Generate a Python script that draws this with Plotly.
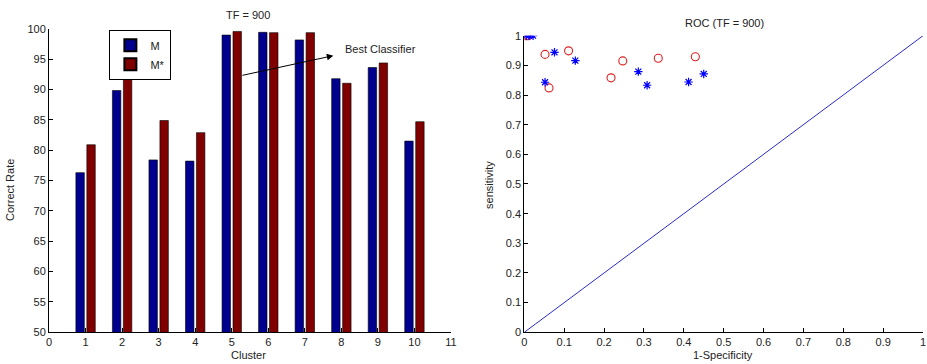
import plotly.graph_objects as go

clusters = [1, 2, 3, 4, 5, 6, 7, 8, 9, 10]
rate_M = [76.3, 89.85, 78.4, 78.2, 99.0, 99.45, 98.2, 91.8, 93.65, 81.5]
rate_Mstar = [80.9, 92.06, 84.9, 82.9, 99.6, 99.4, 99.4, 91.05, 94.4, 84.7]

roc_circle_x = [0.005, 0.010, 0.052, 0.062, 0.111, 0.2175, 0.247, 0.336, 0.429]
roc_circle_y = [1.0, 1.0, 0.937, 0.824, 0.949, 0.858, 0.915, 0.924, 0.929]
roc_star_x = [0.005, 0.012, 0.022, 0.0757, 0.128, 0.052, 0.286, 0.308, 0.412, 0.450]
roc_star_y = [1.0, 1.0, 1.0, 0.944, 0.916, 0.843, 0.879, 0.833, 0.844, 0.871]
diag = [0, 1]
roc_ticks = [i / 10 for i in range(11)]
roc_ticktext = ["0", "0.1", "0.2", "0.3", "0.4", "0.5", "0.6", "0.7", "0.8", "0.9", "1"]

FONT = "Liberation Sans, Arial, sans-serif"
TXT = dict(family=FONT, size=11, color="#222222")

fig = go.Figure()
fig.add_trace(go.Bar(x=clusters, y=rate_M, name="M", marker=dict(color="#00008f", line=dict(color="#000000", width=0.6)),
                     xaxis="x", yaxis="y"))
fig.add_trace(go.Bar(x=clusters, y=rate_Mstar, name="M*", marker=dict(color="#800000", line=dict(color="#000000", width=0.6)),
                     xaxis="x", yaxis="y"))

fig.add_trace(go.Scatter(x=diag, y=diag, mode="lines", line=dict(color="#2a2ad0", width=1), showlegend=False,
                         xaxis="x2", yaxis="y2"))
fig.add_trace(go.Scatter(x=roc_circle_x, y=roc_circle_y, mode="markers",
                         marker=dict(symbol="circle-open", size=8, color="#e02020", line=dict(width=1.1)),
                         showlegend=False, xaxis="x2", yaxis="y2"))
fig.add_trace(go.Scatter(x=roc_star_x, y=roc_star_y, mode="markers",
                         marker=dict(symbol="asterisk-open", size=7, color="#0000ff", line=dict(width=1.2, color="#0000ff")),
                         showlegend=False, xaxis="x2", yaxis="y2"))

axis_common = dict(showline=True, linecolor="#000000", linewidth=1, ticks="inside", ticklen=4,
                   tickcolor="#000000", showgrid=False, zeroline=False, mirror=False, automargin=False,
                   tickfont=dict(family=FONT, size=11, color="#222222"))

fig.update_layout(
    template="none",
    width=927, height=364,
    margin=dict(l=0, r=0, t=0, b=0, pad=0, autoexpand=False),
    paper_bgcolor="white", plot_bgcolor="white",
    barmode="group", bargap=0.4, bargroupgap=0.23,
    font=TXT,
    xaxis=dict(domain=[0.0529, 0.4865], range=[0, 11], tickmode="array", tickvals=list(range(0, 12)), anchor="y", **axis_common),
    yaxis=dict(domain=[0.0879, 0.9203], range=[50, 100], tickmode="array", tickvals=list(range(50, 101, 5)), anchor="x", **axis_common),
    xaxis2=dict(domain=[0.5656, 0.9957], range=[0, 1], tickmode="array", tickvals=roc_ticks,
                ticktext=roc_ticktext, anchor="y2", **axis_common),
    yaxis2=dict(domain=[0.0871, 0.9019], range=[0, 1], tickmode="array", tickvals=roc_ticks,
                ticktext=roc_ticktext, anchor="x2", **axis_common),
    legend=dict(x=0.118, y=0.918, xanchor="left", yanchor="top", bgcolor="white", bordercolor="#000000", borderwidth=1,
                font=dict(family=FONT, size=11, color="#222222"), tracegroupgap=0, itemsizing="constant",
                entrywidth=62, entrywidthmode="pixels"),
    annotations=[
        dict(text="TF = 900", x=248 / 927, y=1 - 15 / 364, xref="paper", yref="paper", showarrow=False,
             xanchor="center", yanchor="middle", font=TXT),
        dict(text="ROC (TF = 900)", x=724 / 927, y=1 - 22.5 / 364, xref="paper", yref="paper", showarrow=False,
             xanchor="center", yanchor="middle", font=TXT),
        dict(text="Cluster", x=248 / 927, y=1 - 355 / 364, xref="paper", yref="paper", showarrow=False,
             xanchor="center", yanchor="middle", font=TXT),
        dict(text="Correct Rate", x=10 / 927, y=0.478, xref="paper", yref="paper", showarrow=False, textangle=-90,
             xanchor="center", yanchor="middle", font=TXT),
        dict(text="1-Specificity", x=723 / 927, y=1 - 355 / 364, xref="paper", yref="paper", showarrow=False,
             xanchor="center", yanchor="middle", font=TXT),
        dict(text="sensitivity", x=489 / 927, y=0.492, xref="paper", yref="paper", showarrow=False, textangle=-90,
             xanchor="center", yanchor="middle", font=TXT),
        dict(text="", x=7.78, y=95.6, ax=5.25, ay=92.3, xref="x", yref="y", axref="x", ayref="y",
             showarrow=True, arrowhead=2, arrowsize=1.3, arrowwidth=1, arrowcolor="#000000", standoff=0, startstandoff=0),
        dict(text="Best Classifier", x=8.05, y=96.75, xref="x", yref="y", xanchor="left", yanchor="middle",
             showarrow=False, font=TXT),
    ],
)

fig.write_html("out.html", config={"displayModeBar": False},
               post_script="document.body.style.margin='0';document.body.style.overflow='hidden';")
